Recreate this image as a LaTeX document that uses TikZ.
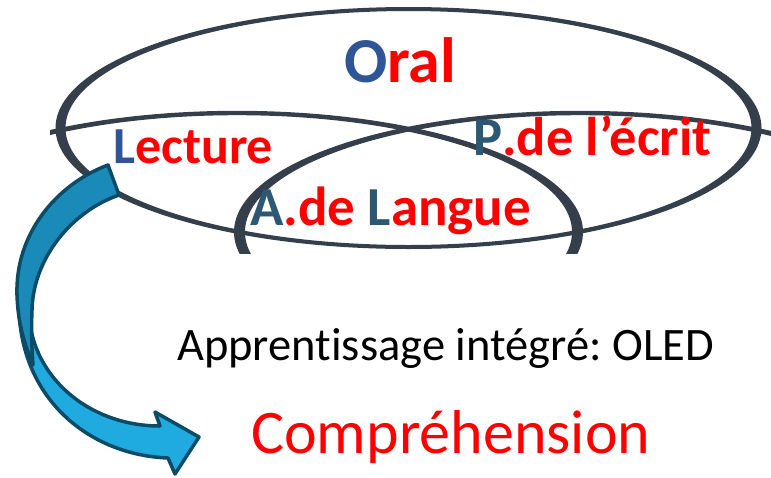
\documentclass[tikz,border=0pt]{standalone}
\usepackage{fontspec}
\setmainfont{Carlito}[Ligatures=NoCommon]
\frenchspacing
\definecolor{ringc}{RGB}{52,63,75}
\definecolor{blueO}{RGB}{47,85,151}
\definecolor{tealc}{RGB}{44,88,116}
\definecolor{redc}{RGB}{255,0,0}
\definecolor{arrdark}{RGB}{26,139,185}
\definecolor{arrlight}{RGB}{31,170,224}
\definecolor{arredge}{RGB}{11,75,102}
\tikzset{
  ringfill/.style={fill=ringc, even odd rule},
  biglbl/.style={inner sep=0pt, anchor=base west},
  arrpart/.style={draw=arredge, line width=3.5pt, line join=round},
}
\begin{document}
\begin{tikzpicture}[x=1pt,y=-1pt]
\useasboundingbox (0,0) rectangle (771,477);
\begin{scope}
  \clip (50,0) rectangle (771,253);
  % big ellipse (Oral)
  \fill[ringfill] (408.5,128) ellipse [x radius=353pt, y radius=121pt]
                  (408.5,128) ellipse [x radius=343pt, y radius=117pt];
  % left tilted ellipse
  \fill[ringfill] (237,232) ellipse [x radius=346pt, y radius=121.2pt]
                  (237,232) ellipse [x radius=335pt, y radius=116.8pt];
  % right ellipse
  \fill[ringfill] (580,232) ellipse [x radius=346pt, y radius=121.2pt]
                  (580,232) ellipse [x radius=335pt, y radius=116.8pt];
\end{scope}
% labels
\node[biglbl, font=\fontsize{64}{64}\selectfont\bfseries] (oral) at (344,82)
  {\textcolor{blueO}{O}\textcolor{redc}{ral}};
\node[biglbl, font=\fontsize{52}{52}\selectfont\bfseries] (lecture) at (113,163)
  {\textcolor{blueO}{L}\textcolor{redc}{ecture}};
\node[biglbl, font=\fontsize{54.5}{54.5}\selectfont\bfseries] (ecrit) at (473,155)
  {\textcolor{tealc}{P}\textcolor{redc}{.de l’écrit}};
\node[biglbl, font=\fontsize{55}{55}\selectfont\bfseries] (langue) at (250,225)
  {\textcolor{tealc}{A}\textcolor{redc}{.de }\textcolor{tealc}{L}\textcolor{redc}{angue}};
\node[inner sep=0pt, anchor=base west, font=\fontsize{46.5}{46.5}\selectfont] (oled) at (177,360)
  {Apprentissage intégré: OLED};
\node[inner sep=0pt, anchor=base west, font=\fontsize{62}{62}\selectfont, text=redc] (compr) at (251,453)
  {Compréhension};
% curved arrow
\filldraw[arrpart, fill=arrlight] (19,310) .. controls (22,400) and (90,455) .. (168,458)
  -- (175,474) -- (199,437) -- (155,412) -- (160,426)
  .. controls (95,426) and (42,385) .. (31,330) -- cycle;
\filldraw[arrpart, fill=arrdark] (108,165) .. controls (55,185) and (15,235) .. (17,295)
  .. controls (18,325) and (25,345) .. (33,365)
  .. controls (32,350) and (31,335) .. (32,310)
  .. controls (33,260) and (70,212) .. (119,195) -- cycle;
\end{tikzpicture}
\end{document}
